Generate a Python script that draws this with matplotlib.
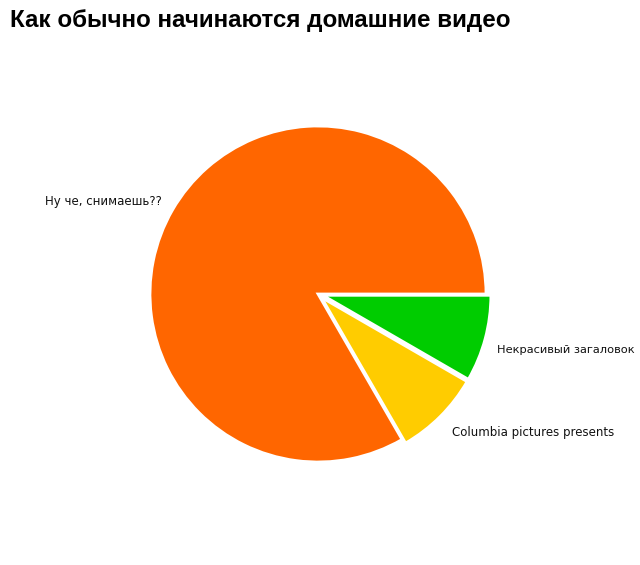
import matplotlib.pyplot as plt
from matplotlib.font_manager import FontProperties

# slices, counter-clockwise from 3 o'clock
labels = ['Ну че, снимаешь??', 'Columbia pictures presents', 'Некрасивый загаловок']
values = [100, 10, 10]
colors = ['#FF6600', '#FFCC00', '#00CC00']
explode = [0, 0.03, 0.03]

fig = plt.figure(figsize=(6.4, 5.65), dpi=100)
ax = fig.add_axes([0, 0, 1, 1])

# pie centre at (318, 294) px, radius 168 px
r_px = 168.0

wedges, texts = ax.pie(values, labels=labels, colors=colors, explode=explode,
                       startangle=0, counterclock=True, labeldistance=1.1,
                       wedgeprops=dict(edgecolor='white', linewidth=2),
                       textprops=dict(fontsize=8.5, color='#111111', family='DejaVu Sans'))
# the cyrillic label runs to the right edge, keep it inside
texts[2].set_fontsize(8.2)
x2, y2 = texts[2].get_position()
texts[2].set_position((x2 - 4 / r_px, y2 - 7 / r_px))
x1, y1 = texts[1].get_position()
texts[1].set_position((x1, y1 - 4 / r_px))
x0, y0 = texts[0].get_position()
texts[0].set_position((x0 + 4 / r_px, y0))

ax.set_xlim(-318 / r_px, (640 - 318) / r_px)
ax.set_ylim(-(565 - 294) / r_px, 294 / r_px)
ax.set_aspect('auto')
ax.axis('off')

title_font = FontProperties(family='Liberation Sans', weight='bold',
                            stretch='normal', size=17.4)
fig.text(10 / 640, 1 - 20 / 565, 'Как обычно начинаются домашние видео',
         fontproperties=title_font, ha='left', va='center', color='#000000')

fig.savefig('out.png', dpi=100)
